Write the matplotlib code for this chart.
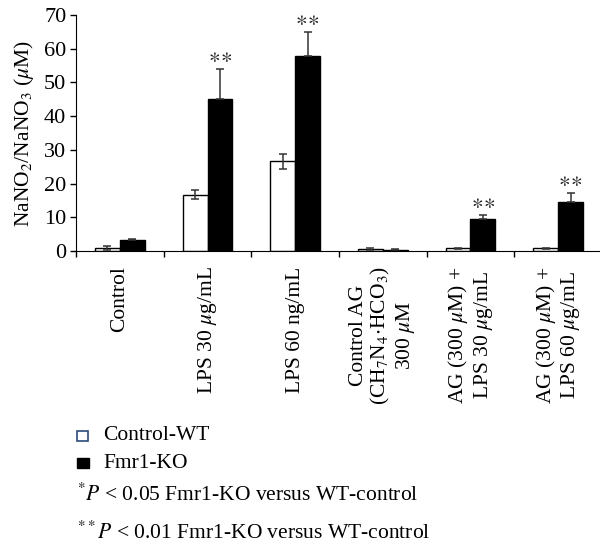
import matplotlib.pyplot as plt
from matplotlib.patches import Rectangle
import numpy as np

plt.rcParams['font.family'] = ['Liberation Serif', 'DejaVu Serif']
plt.rcParams['mathtext.fontset'] = 'stix'

groups = ['Control', r'LPS 30 $\mu$g/mL', 'LPS 60 ng/mL',
          'Control AG\n' + r'(CH$_7$N$_4$$\cdot$HCO$_3$)' + '\n' + r'300 $\mu$M',
          r'AG (300 $\mu$M) +' + '\n' + r'LPS 30 $\mu$g/mL',
          r'AG (300 $\mu$M) +' + '\n' + r'LPS 60 $\mu$g/mL']
wt = [0.9, 16.7, 26.6, 0.7, 0.8, 0.8]
wt_err = [0.5, 1.3, 2.3, 0.3, 0.2, 0.2]
ko = [3.2, 45.1, 57.9, 0.3, 9.5, 14.5]
ko_err = [0.3, 9.0, 7.1, 0.2, 1.1, 2.7]
stars = ['', '**', '**', '', '**', '**']

fig = plt.figure(figsize=(6, 5.48), dpi=100)
ax = fig.add_axes([76 / 600, 1 - 251 / 548, 526 / 600, 236 / 548])

x = np.arange(len(groups)) + 0.5
w = 0.285
ax.bar(x - w / 2, wt, w, color='white', edgecolor='black', linewidth=1.0, zorder=2)
ax.bar(x + w / 2, ko, w, color='black', edgecolor='black', linewidth=1.0, zorder=2)
ax.errorbar(x - w / 2, wt, yerr=wt_err, fmt='none', ecolor='#333333',
            elinewidth=1.1, capsize=3, capthick=1.1, zorder=3)
ax.errorbar(x + w / 2, ko, yerr=[np.zeros(len(ko)), ko_err], fmt='none',
            ecolor='#333333', elinewidth=1.1, capsize=3, capthick=1.1, zorder=3)

for i, s in enumerate(stars):
    if s:
        ax.text(x[i] + w / 2, ko[i] + ko_err[i] + 0.6, r'$\ast\!\ast$', ha='center',
                va='bottom', fontsize=16, color='#222222')

ax.set_xlim(0, 6)
ax.set_ylim(0, 70)
ax.set_yticks(range(0, 71, 10))
ax.set_xticks(range(0, 7))
ax.set_xticklabels([])
ax.set_xticks(x, minor=True)
ax.set_xticklabels(groups, minor=True, rotation=90, fontsize=15.5)
for lbl in ax.get_xticklabels(minor=True):
    lbl.set_rotation_mode('default')
    lbl.set_horizontalalignment('center')
    lbl.set_verticalalignment('top')
    lbl.set_multialignment('center')
    lbl.set_linespacing(1.1)
ax.tick_params(axis='x', which='minor', length=0, pad=11)
ax.tick_params(axis='x', which='major', length=4, width=1, direction='out')
ax.tick_params(axis='y', length=4, width=1, labelsize=16, pad=3)
ax.spines['top'].set_visible(False)
ax.spines['right'].set_visible(False)
ax.set_ylabel(r'NaNO$_2$/NaNO$_3$ ($\mu$M)', fontsize=15.5, labelpad=6)

# legend block under the chart
fig.add_artist(Rectangle((77 / 600, 1 - 441 / 548), 11 / 600, 10 / 548,
                         transform=fig.transFigure, facecolor='white',
                         edgecolor='#2b4a7a', linewidth=1.2))
fig.text(103 / 600, 1 - 436 / 548, 'Control-WT', fontsize=15.5, va='center')
fig.add_artist(Rectangle((77 / 600, 1 - 468 / 548), 12 / 600, 10 / 548,
                         transform=fig.transFigure, facecolor='black',
                         edgecolor='black', linewidth=1))
fig.text(103 / 600, 1 - 463 / 548, 'Fmr1-KO', fontsize=15.5, va='center')
fig.text(77 / 600, 1 - 495 / 548, r'$^{*}P$ < 0.05 Fmr1-KO versus WT-control',
         fontsize=15.5, va='center')
fig.text(77 / 600, 1 - 533 / 548, r'$^{**}P$ < 0.01 Fmr1-KO versus WT-control',
         fontsize=15.5, va='center')

fig.savefig('out.png', dpi=100)
